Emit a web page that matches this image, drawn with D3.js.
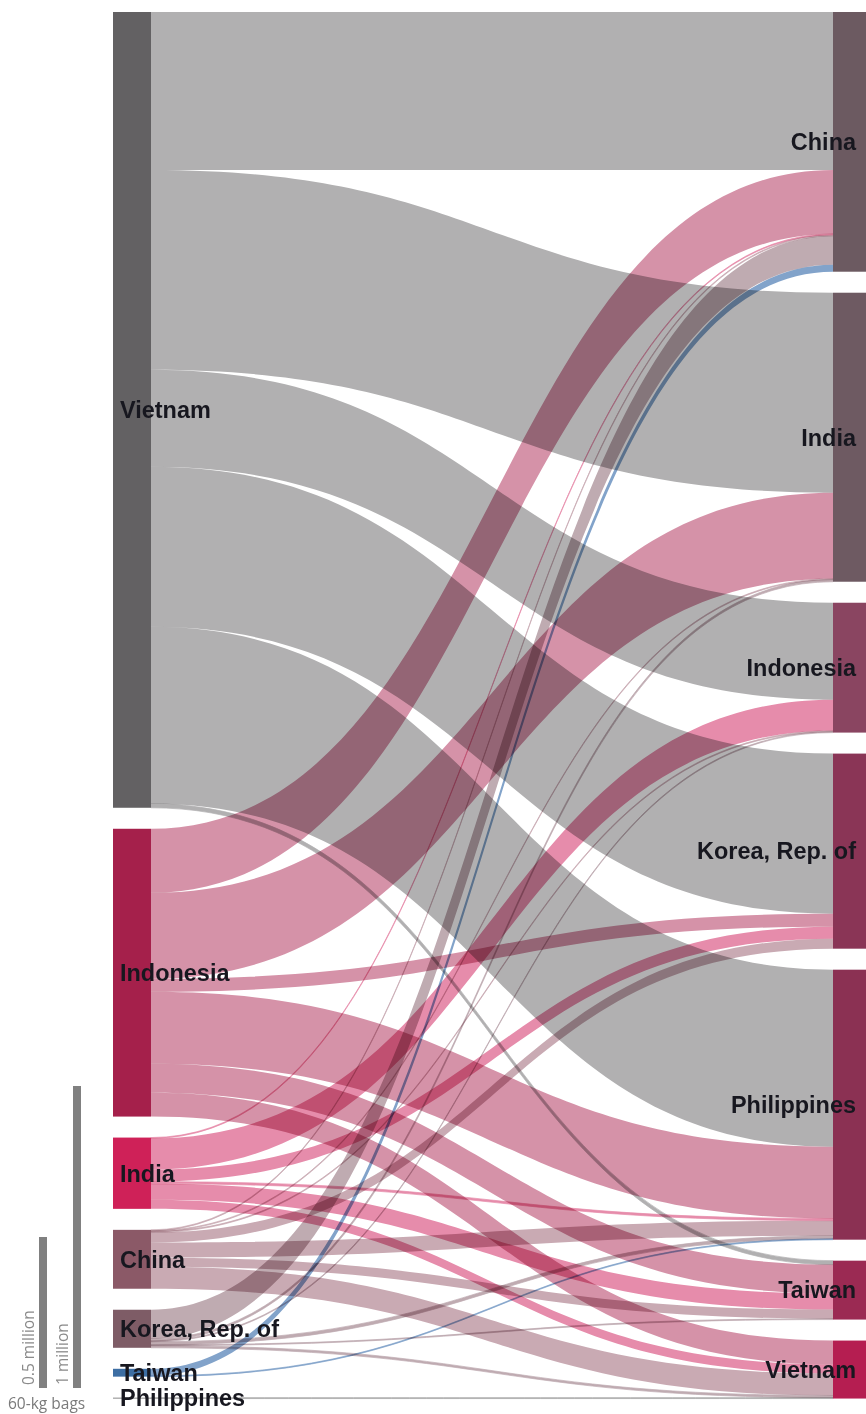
<!DOCTYPE html>
<html>
<head>
<meta charset="utf-8">
<script src="https://cdn.jsdelivr.net/npm/d3@7"></script>
<style>
  html, body { margin: 0; padding: 0; background: #fff; }
  svg { display: block; }
  .link { mix-blend-mode: multiply; }
</style>
</head>
<body>
<svg id="chart" width="866" height="1414"></svg>
<script>
// ---- DATA (thousand 60-kg bags) ----
const exporters = ["Vietnam", "Indonesia", "India", "China", "Korea, Rep. of", "Taiwan", "Philippines"];
const importers = ["China", "India", "Indonesia", "Korea, Rep. of", "Philippines", "Taiwan", "Vietnam"];
// each array: flows to importers, in the order of `importers`
const fromVietnam     = [523, 662, 321, 530, 586, 13, 0];
const fromIndonesia   = [212, 285,   0,  43, 238, 96, 79];
const fromIndia       = [  3,   0, 103,  40,   7, 53, 30];
const fromChina       = [  3,   3,   3,  33,  50, 30, 73];
const fromKorea       = [ 96,   7,   3,   0,  10,  3,  7];
const fromTaiwan      = [ 23,   0,   0,   0,   3,  0,  0];
const fromPhilippines = [  0,   0,   0,   0,   0,  0,  3];
const scaleValues = [500, 1000];
const scaleLabels = ["0.5 million", "1 million"];
const unitLabel = "60-kg bags";

// ---- STYLE ----
const flowRows = [fromVietnam, fromIndonesia, fromIndia, fromChina, fromKorea, fromTaiwan, fromPhilippines];
const leftNodeColors  = ["#636163", "#a5204b", "#cf2158", "#8b5967", "#7e5c66", "#3d6ea3", "#8a8a8a"];
const linkColors      = ["#b1b0b1", "#d592a8", "#e68cab", "#c9aab3", "#bfabb1", "#82a3ca", "#a8a8a8"];
const rightNodeColors = ["#6c5a61", "#6e5a62", "#8a4561", "#8a3556", "#8b3153", "#9b2a53", "#b51e51"];

const svg = d3.select("#chart");
svg.append("rect").attr("width", 866).attr("height", 1414).attr("fill", "#fff");

const yScale = d3.scaleLinear().domain([0, 1000]).range([0, 302]);
const topY = 12, nodePad = 21;
const lx0 = 113, lx1 = 151, rx0 = 833, rx1 = 866;

const leftTotals = flowRows.map(r => d3.sum(r));
const rightTotals = importers.map((_, j) => d3.sum(flowRows, r => r[j]));

function stackNodes(totals) {
  let cur = topY;
  return totals.map(t => {
    const n = { y0: cur, y1: cur + yScale(t) };
    cur = n.y1 + nodePad;
    return n;
  });
}
const leftNodes = stackNodes(leftTotals);
const rightNodes = stackNodes(rightTotals);

const links = [];
const srcOffset = leftNodes.map(n => n.y0);
const tgtOffset = rightNodes.map(n => n.y0);
flowRows.forEach((row, i) => {
  row.forEach((v, j) => {
    if (v > 0) links.push({ s: i, t: j, v });
  });
});
links.forEach(l => {
  const h = yScale(l.v);
  l.sy0 = srcOffset[l.s]; l.sy1 = l.sy0 + h; srcOffset[l.s] = l.sy1;
});
links.slice().sort((a, b) => a.t - b.t || a.s - b.s).forEach(l => {
  const h = yScale(l.v);
  l.ty0 = tgtOffset[l.t]; l.ty1 = l.ty0 + h; tgtOffset[l.t] = l.ty1;
});

function ribbon(l) {
  const x0 = lx1, x1 = rx0, mx = (x0 + x1) / 2;
  const p = d3.path();
  p.moveTo(x0, l.sy0);
  p.bezierCurveTo(mx, l.sy0, mx, l.ty0, x1, l.ty0);
  p.lineTo(x1, l.ty1);
  p.bezierCurveTo(mx, l.ty1, mx, l.sy1, x0, l.sy1);
  p.closePath();
  return p.toString();
}

const gLinks = svg.append("g");
gLinks.selectAll("path")
  .data(links.slice().sort((a, b) => b.v - a.v))
  .join("path")
  .attr("class", "link")
  .attr("d", ribbon)
  .attr("fill", d => linkColors[d.s])
  .attr("stroke", d => d.v < 15 ? linkColors[d.s] : "none")
  .attr("stroke-width", d => d.v < 15 ? 0.7 : 0);

svg.append("g").selectAll("rect")
  .data(leftNodes)
  .join("rect")
  .attr("x", lx0).attr("width", lx1 - lx0)
  .attr("y", d => d.y0).attr("height", d => Math.max(1, d.y1 - d.y0))
  .attr("fill", (d, i) => leftNodeColors[i]);

svg.append("g").selectAll("rect")
  .data(rightNodes)
  .join("rect")
  .attr("x", rx0).attr("width", rx1 - rx0)
  .attr("y", d => d.y0).attr("height", d => Math.max(1, d.y1 - d.y0))
  .attr("fill", (d, i) => rightNodeColors[i]);

const labelFont = "'Liberation Sans', Arial, sans-serif";
const labelScaleX = 1.02;
const labelSize = 23;
svg.append("g").selectAll("text")
  .data(leftNodes)
  .join("text")
  .attr("transform", d => `translate(120,${(d.y0 + d.y1) / 2}) scale(${labelScaleX},1)`)
  .attr("dy", "0.36em")
  .attr("font-family", labelFont)
  .attr("font-weight", "bold")
  .attr("font-size", labelSize)
  .attr("fill", "#17171f")
  .text((d, i) => exporters[i]);

svg.append("g").selectAll("text")
  .data(rightNodes)
  .join("text")
  .attr("transform", d => `translate(856,${(d.y0 + d.y1) / 2}) scale(${labelScaleX},1)`)
  .attr("dy", "0.36em")
  .attr("text-anchor", "end")
  .attr("font-family", labelFont)
  .attr("font-weight", "bold")
  .attr("font-size", labelSize)
  .attr("fill", "#17171f")
  .text((d, i) => importers[i]);

const barBottom = 1388;
const barX = [39, 73];
const gScale = svg.append("g");
gScale.selectAll("rect")
  .data(scaleValues)
  .join("rect")
  .attr("x", (d, i) => barX[i]).attr("width", 8)
  .attr("y", d => barBottom - yScale(d)).attr("height", d => yScale(d))
  .attr("fill", "#808080");
gScale.selectAll("text.sl")
  .data(scaleValues)
  .join("text")
  .attr("class", "sl")
  .attr("transform", (d, i) => `translate(${barX[i] - 5},${barBottom - 3}) rotate(-90)`)
  .attr("font-family", "'Open Sans', sans-serif")
  .attr("font-size", 15.5)
  .attr("fill", "#8a8a8a")
  .text((d, i) => scaleLabels[i]);
gScale.append("text")
  .attr("x", 8).attr("y", 1409)
  .attr("font-family", "'Open Sans', sans-serif")
  .attr("font-size", 15.5)
  .attr("fill", "#7a7a7a")
  .text(unitLabel);
</script>
</body>
</html>
